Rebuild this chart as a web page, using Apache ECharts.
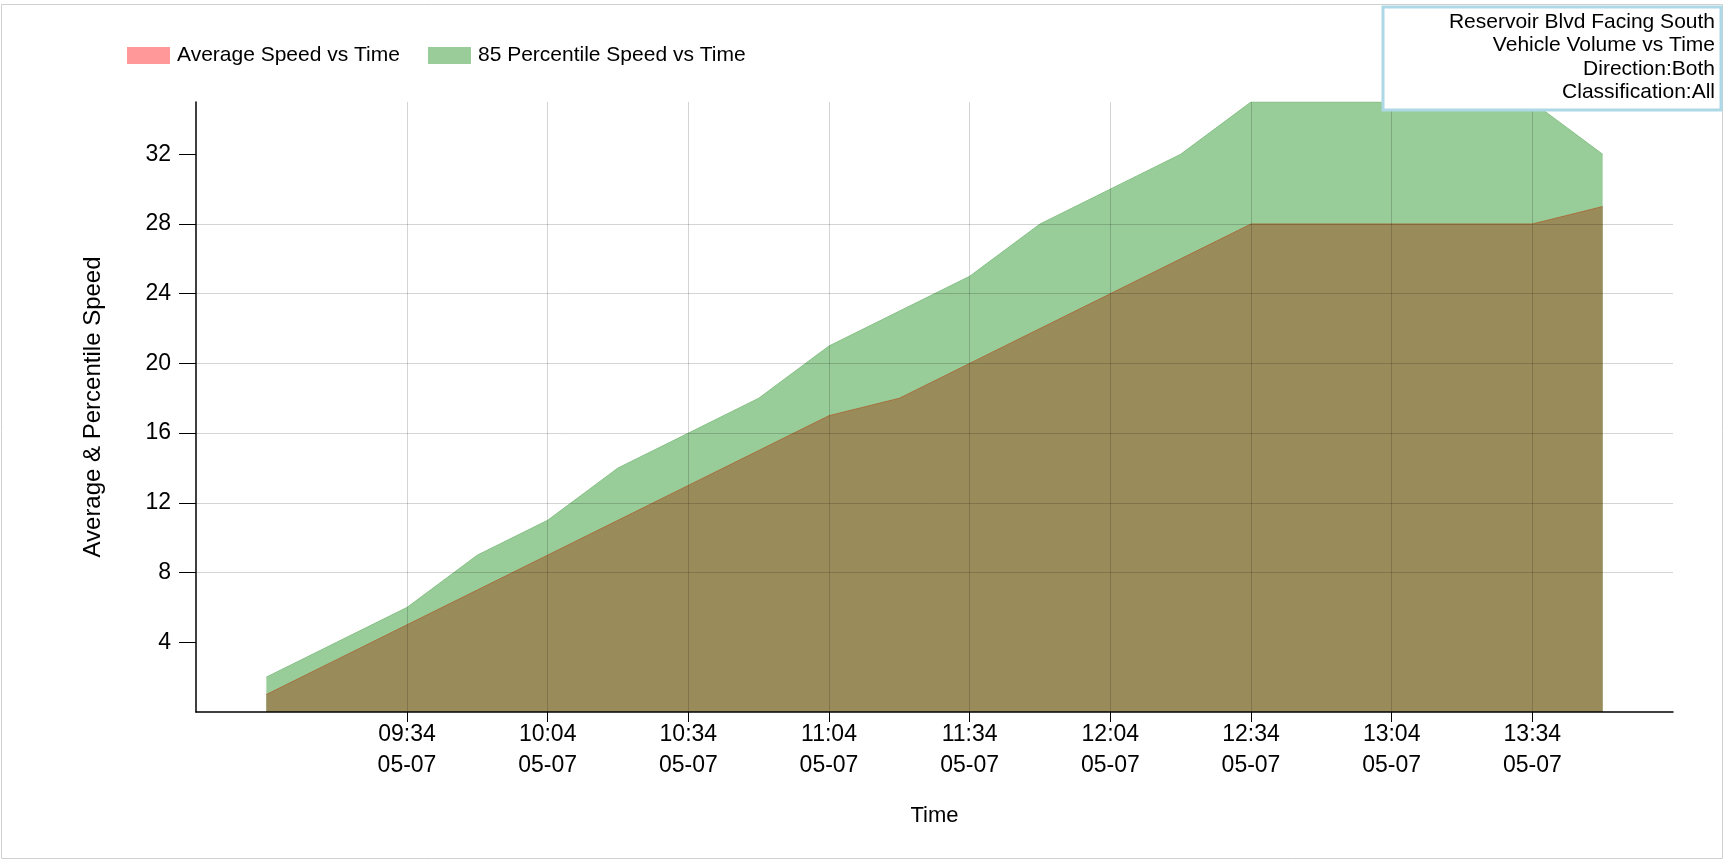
<!DOCTYPE html>
<html lang="en">
<head>
    <meta charset="utf-8">
    <script src="https://cdn.jsdelivr.net/npm/echarts@6/dist/echarts.min.js"></script>
    <style>
        html, body { margin:0; padding:0; background:#fff; }
        #main { width:1726px; height:862px; }
    </style>
</head>
<body>
<div id="main"></div>
<script type="text/javascript">
    // readings every 15 minutes
    var times = ['09:04','09:19','09:34','09:49','10:04','10:19','10:34','10:49','11:04','11:19',
                 '11:34','11:49','12:04','12:19','12:34','12:49','13:04','13:19','13:34','13:49'];
    var avgSpeed = [1,3,5,7,9,11,13,15,17,18,20,22,24,26,28,28,28,28,28,29];
    var pctSpeed = [2,4,6,9,11,14,16,18,21,23,25,28,30,32,35,35,35,35,35,32];

    var tickTimes = ['09:34','10:04','10:34','11:04','11:34','12:04','12:34','13:04','13:34'];
    var dayLabel = '05-07';
    var xStart = '08:49', xEnd = '14:04';
    var yTicks = [4,8,12,16,20,24,28,32];
    var yMax = 35;

    var seriesNames = ['Average Speed vs Time','85 Percentile Speed vs Time'];
    var titleLines = ['Reservoir Blvd Facing South','Vehicle Volume vs Time','Direction:Both','Classification:All'];

    var font = '"Liberation Sans", Arial, sans-serif';

    function toMin(t){ var p = t.split(':'); return (+p[0]) * 60 + (+p[1]); }
    function pad(n){ return (n < 10 ? '0' : '') + n; }
    function fmt(m){ return pad(Math.floor(m / 60)) + ':' + pad(m % 60); }

    var avgData = [], pctData = [];
    for (var i = 0; i < times.length; i++) {
        avgData.push([toMin(times[i]), avgSpeed[i]]);
        pctData.push([toMin(times[i]), pctSpeed[i]]);
    }
    var xTicks = tickTimes.map(toMin);

    var myChart = echarts.init(document.getElementById('main'));
    myChart.setOption({
        animation: false,
        textStyle: { fontFamily: font },
        legend: {
            left: 122, top: 40,
            itemWidth: 43, itemHeight: 17, itemGap: 28,
            icon: 'rect',
            textStyle: { fontSize: 21, color: '#000', padding: [0, 0, 0, 2] },
            data: [
                { name: seriesNames[0], itemStyle: { color: '#ff9999' } },
                { name: seriesNames[1], itemStyle: { color: '#99cc99' } }
            ]
        },
        grid: { left: 196, right: 53, top: 102, bottom: 150 },
        xAxis: {
            type: 'value',
            z: 3,
            min: toMin(xStart), max: toMin(xEnd),
            name: 'Time', nameLocation: 'middle', nameGap: 93,
            nameTextStyle: { fontSize: 22, color: '#000' },
            axisLine: { lineStyle: { color: '#000', width: 1.5 } },
            axisTick: { customValues: xTicks, length: 10, lineStyle: { color: '#000' } },
            axisLabel: {
                customValues: xTicks, margin: 7, fontSize: 23, lineHeight: 31, color: '#000',
                formatter: function (v) { return fmt(v) + '\n' + dayLabel; }
            },
            splitLine: { show: true, customValues: xTicks, lineStyle: { color: 'rgba(0,0,0,0.17)', width: 1 } }
        },
        yAxis: {
            type: 'value',
            z: 3,
            min: 0, max: yMax, interval: 4,
            name: 'Average & Percentile Speed', nameLocation: 'middle', nameGap: 91, nameRotate: 90,
            nameTextStyle: { fontSize: 24, color: '#000' },
            axisLine: { show: true, lineStyle: { color: '#000', width: 1.5 } },
            axisTick: { show: true, customValues: yTicks, length: 17, lineStyle: { color: '#000' } },
            axisLabel: { customValues: yTicks, margin: 25, fontSize: 23, color: '#000' },
            splitLine: { show: true, showMinLine: false, showMaxLine: false,
                         lineStyle: { color: 'rgba(0,0,0,0.17)', width: 1 } }
        },
        series: [
            {
                name: seriesNames[1],
                type: 'line',
                z: 1,
                data: pctData,
                showSymbol: false,
                itemStyle: { color: '#99cc99' },
                lineStyle: { color: '#86c086', width: 1 },
                areaStyle: { color: '#98cc98', opacity: 1 }
            },
            {
                name: seriesNames[0],
                type: 'line',
                z: 2,
                data: avgData,
                showSymbol: false,
                itemStyle: { color: '#ff9999' },
                lineStyle: { color: '#a8703f', width: 1 },
                areaStyle: { color: '#9a8c5a', opacity: 1 }
            }
        ],
        graphic: [
            {
                type: 'rect', z: 50, silent: true,
                shape: { x: 1.5, y: 4.5, width: 1721, height: 854 },
                style: { fill: 'none', stroke: '#d0d0d0', lineWidth: 1 }
            },
            {
                type: 'rect', z: 100, silent: true,
                shape: { x: 1383, y: 7, width: 338, height: 103 },
                style: { fill: '#fff', stroke: '#add8e6', lineWidth: 3 }
            },
            {
                type: 'text', z: 101, silent: true,
                x: 1715, y: 10,
                style: {
                    text: titleLines.join('\n'),
                    font: '21px ' + font,
                    fill: '#000', align: 'right', lineHeight: 23.5
                }
            }
        ]
    });
</script>
</body>
</html>
